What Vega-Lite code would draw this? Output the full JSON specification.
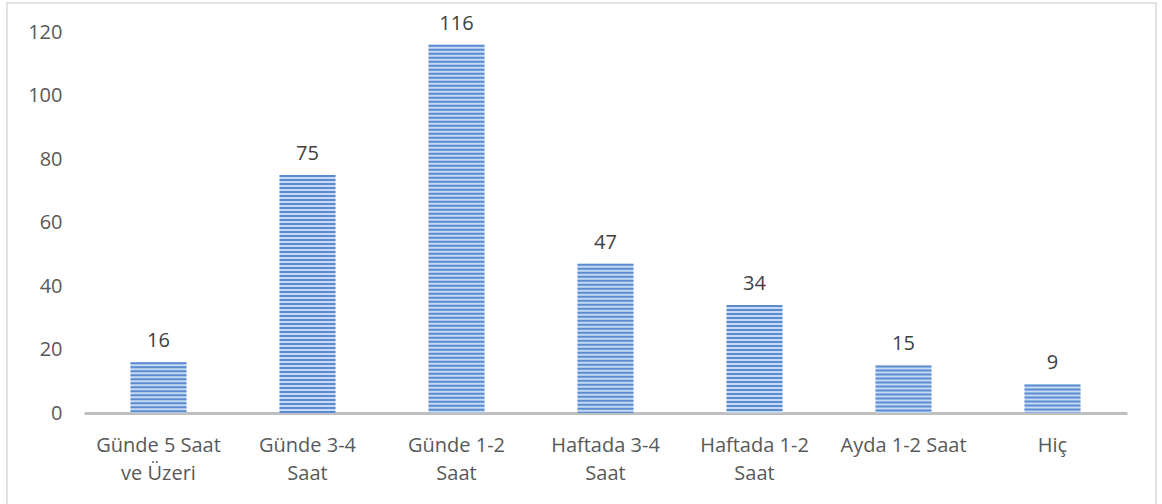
{
  "$schema": "https://vega.github.io/schema/vega-lite/v6.json",
  "width": 1149,
  "height": 503,
  "autosize": {"type": "none"},
  "padding": {"left": 7, "top": 3, "right": 6, "bottom": -2},
  "background": "white",
  "config": {
    "view": {"stroke": "#d9d9d9", "strokeWidth": 1.5},
    "font": "Open Sans"
  },
  "data": {
    "values": [
      {"kategori": "Günde 5 Saat ve Üzeri", "kisi": 16},
      {"kategori": "Günde 3-4 Saat", "kisi": 75},
      {"kategori": "Günde 1-2 Saat", "kisi": 116},
      {"kategori": "Haftada 3-4 Saat", "kisi": 47},
      {"kategori": "Haftada 1-2 Saat", "kisi": 34},
      {"kategori": "Ayda 1-2 Saat", "kisi": 15},
      {"kategori": "Hiç", "kisi": 9}
    ]
  },
  "encoding": {
    "x": {
      "field": "kategori",
      "type": "nominal",
      "sort": null,
      "scale": {"range": [77, 1120], "paddingInner": 0.624, "paddingOuter": 0.312},
      "axis": {
        "title": null,
        "ticks": false,
        "grid": false,
        "domainColor": "#bfbfbf",
        "domainWidth": 3,
        "labelAngle": 0,
        "labelFont": "Open Sans",
        "labelFontSize": 20,
        "labelColor": "#595959",
        "labelPadding": 22,
        "labelLineHeight": 28,
        "offset": -93,
        "labelExpr": "datum.label == 'Ayda 1-2 Saat' ? datum.label : split(replace(replace(datum.label, ' ve ', '|ve '), regexp('([0-9]) Saat$'), '$1|Saat'), '|')"
      }
    },
    "y": {
      "field": "kisi",
      "type": "quantitative",
      "scale": {"domain": [0, 120], "range": [410, 29], "nice": false},
      "axis": {
        "title": null,
        "values": [0, 20, 40, 60, 80, 100, 120],
        "domain": false,
        "ticks": false,
        "grid": false,
        "labelFont": "Open Sans",
        "labelFontSize": 20,
        "labelColor": "#595959",
        "labelPadding": 0,
        "offset": -55
      }
    }
  },
  "layer": [
    {"mark": {"type": "bar", "color": "#c8daf3"}},
    {
      "mark": {"type": "rule", "color": "#5b8bd0", "strokeWidth": 56, "strokeDash": [2, 2], "strokeCap": "butt"},
      "encoding": {"y2": {"datum": 0}}
    },
    {
      "mark": {"type": "text", "dy": -15, "baseline": "alphabetic", "fontSize": 20, "color": "#404040"},
      "encoding": {"text": {"field": "kisi", "type": "quantitative"}}
    }
  ]
}
